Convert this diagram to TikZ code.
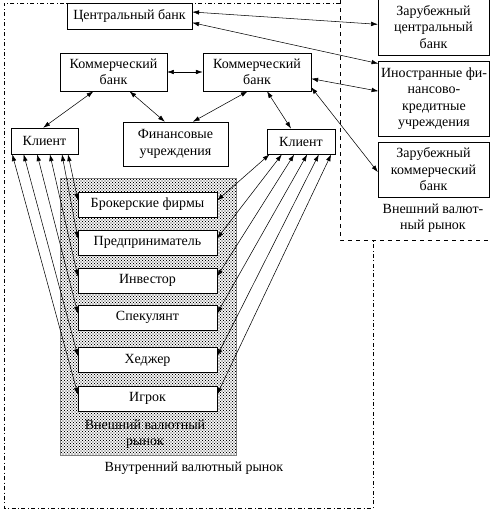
\documentclass[tikz,border=0pt]{standalone}
\usepackage{fontspec}
\setmainfont{Liberation Serif}
\usetikzlibrary{
    arrows.meta,
    calc,
    patterns
}
\pgfdeclarepatternformonly{stipple}{\pgfqpoint{-0.5pt}{-0.5pt}}{\pgfqpoint{2pt}{2pt}}{\pgfqpoint{2.25pt}{2.25pt}}{%
    \pgfpathcircle{\pgfqpoint{0pt}{0pt}}{.45pt}
    \pgfpathcircle{\pgfqpoint{1.125pt}{1.125pt}}{.45pt}
    \pgfusepath{fill}}

\begin{document}
\begin{tikzpicture}[
    x=0.75pt, y=-0.75pt,
    font=\rmfamily\fontsize{10.5pt}{12.4pt}\selectfont,
    box/.style={
        rectangle,
        draw=black,
        fill=white,
        align=center,
        inner sep=1pt
    },
    inner/.style={
        box,
        minimum width=104pt,
        minimum height=19pt
    },
    extbox/.style={
        box,
        minimum width=83pt
    },
    arrow/.style={
        {Latex[length=1.8mm,width=1.2mm]}-{Latex[length=1.8mm,width=1.2mm]},
        thin,
        draw=black
    },
    note/.style={
        align=center,
        text=black
    }
]
\useasboundingbox (0,0) rectangle (492,514);

% =========================================================
% Market areas
% =========================================================
\draw[dash dot] (340,3) -- (4,3) -- (4,508) -- (373,508) -- (373,240);
\draw[dashed] (340,0) -- (340,240) -- (492,240);

\draw[draw=black!50, pattern=stipple, pattern color=black]
    (60,178) rectangle (236,455);

% =========================================================
% Banks
% =========================================================
\node[box, minimum width=93.75pt, minimum height=19.5pt] (cb) at (129.5,16)
{Центральный банк};

\node[box, minimum width=80pt, minimum height=28.5pt] (kb1) at (113.5,72)
{Коммерческий\\банк};

\node[box, minimum width=81pt, minimum height=28.5pt] (kb2) at (257,72)
{Коммерческий\\банк};

\node[box, minimum width=79pt, minimum height=33pt] (fin) at (175.5,144)
{Финансовые\\учреждения};

% =========================================================
% Clients
% =========================================================
\node[box, minimum width=50pt, minimum height=19.5pt] (kl1) at (44.5,141)
{Клиент};

\node[box, minimum width=51pt, minimum height=19pt] (kl2) at (301,141.5)
{Клиент};

% =========================================================
% Foreign side
% =========================================================
\node[extbox, minimum height=42pt] (zcb) at (433.5,27)
{Зарубежный\\центральный\\банк};

\node[extbox, minimum height=56pt] (ifk) at (434,98.5)
{Иностранные фи-\\нансово-\\кредитные\\учреждения};

\node[extbox, minimum height=41pt] (zkb) at (433.5,169.5)
{Зарубежный\\коммерческий\\банк};

\node[note] (extlabel) at (433,218) {Внешний валют-\\ный рынок};

% =========================================================
% Market participants
% =========================================================
\node[inner] (broker) at (147.5,204.5) {Брокерские фирмы};
\node[inner] (predpr) at (147.5,242.5) {Предприниматель};
\node[inner] (invest) at (147.5,280.5) {Инвестор};
\node[inner] (spekul) at (147.5,317.5) {Спекулянт};
\node[inner] (hedzher) at (147.5,360) {Хеджер};
\node[inner] (igrok) at (147.5,398.5) {Игрок};

\node[note] (dotlabel) at (145,434) {Внешний валютный\\рынок};
\node[note] (intlabel) at (194,468) {Внутренний валютный рынок};

% =========================================================
% Bank arrows
% =========================================================
\draw[arrow] ([yshift=3pt]cb.east) -- ([yshift=2pt]zcb.west);
\draw[arrow] ([yshift=-5pt]cb.east) -- ([yshift=-2pt]ifk.north west);
\draw[arrow] ([yshift=-5pt]kb2.east) -- ([yshift=5.5pt]ifk.west);
\draw[arrow] ([yshift=3pt]kb2.south east) -- ([yshift=-2pt]zkb.west);
\draw[arrow] (kb1.east) -- (kb2.west);

\draw[arrow] ([xshift=-15pt]kb1.south) -- ([xshift=-1pt]kl1.north);
\draw[arrow] ([xshift=12pt]kb1.south) -- ([xshift=-8pt]fin.north);
\draw[arrow] ([xshift=-7pt]kb2.south) -- ([xshift=13pt]fin.north);
\draw[arrow] ([xshift=7.5pt]kb2.south) -- ([xshift=-7.5pt]kl2.north);

% =========================================================
% Client arrows
% =========================================================
\foreach \b/\fl/\fr in {broker/0.85/0.04, predpr/0.76/0.22, invest/0.58/0.40,
                        spekul/0.39/0.59, hedzher/0.19/0.76, igrok/0.02/0.94} {
    \draw[arrow] ($(kl1.south west)!\fl!(kl1.south east)$) -- ([yshift=3pt]\b.west);
    \draw[arrow] ($(kl2.south west)!\fr!(kl2.south east)$) -- ([yshift=3pt]\b.east);
}

\end{tikzpicture}
\end{document}
